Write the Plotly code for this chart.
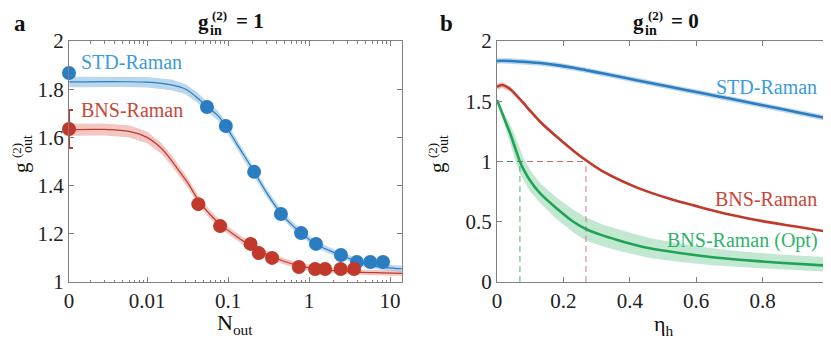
import numpy as np
import plotly.graph_objects as go

# ---- data ----
# panel a : g2_out vs N_out (g2_in = 1); N_out = 0 sits on the left axis edge
n_std = [0, 0.055, 0.094, 0.21, 0.45, 0.80, 1.22, 2.48, 3.9, 5.7, 8.2]
g_std = [1.867, 1.726, 1.647, 1.457, 1.282, 1.203, 1.158, 1.112, 1.083, 1.083, 1.083]
n_bns = [0, 0.043, 0.080, 0.19, 0.24, 0.35, 0.75, 1.19, 1.58, 2.46, 3.6]
g_bns = [1.635, 1.323, 1.232, 1.158, 1.12, 1.10, 1.062, 1.054, 1.054, 1.054, 1.054]
err_bns = [0.079, 0, 0, 0, 0, 0, 0, 0, 0, 0, 0]

fit_n_std = [0.0011, 0.005, 0.01, 0.02, 0.03, 0.04, 0.055, 0.075, 0.094, 0.13, 0.21,
             0.3, 0.45, 0.6, 0.8, 1.2, 1.8, 2.5, 4, 6, 9, 14]
fit_g_std = [1.830, 1.831, 1.829, 1.818, 1.80, 1.77, 1.728, 1.69, 1.647, 1.57, 1.458,
             1.37, 1.285, 1.24, 1.203, 1.158, 1.13, 1.11, 1.085, 1.068, 1.060, 1.055]
fit_w_std = [0.022, 0.022, 0.022, 0.022, 0.021, 0.021, 0.02, 0.02, 0.02, 0.019, 0.018,
             0.017, 0.016, 0.015, 0.015, 0.014, 0.013, 0.013, 0.012, 0.012, 0.012, 0.012]

fit_n_bns = [0.0011, 0.003, 0.006, 0.01, 0.015, 0.02, 0.025, 0.032, 0.043, 0.06, 0.08,
             0.12, 0.19, 0.3, 0.5, 0.75, 1.2, 2, 4, 8, 14]
fit_g_bns = [1.632, 1.633, 1.625, 1.60, 1.555, 1.505, 1.46, 1.41, 1.34, 1.28, 1.24,
             1.195, 1.15, 1.115, 1.085, 1.068, 1.055, 1.047, 1.041, 1.038, 1.036]
fit_w_bns = [0.025, 0.025, 0.025, 0.024, 0.023, 0.022, 0.021, 0.02, 0.019, 0.018, 0.017,
             0.016, 0.015, 0.014, 0.013, 0.012, 0.012, 0.011, 0.011, 0.011, 0.011]

# panel b : g2_out vs eta_h (g2_in = 0)
eta = [0, 0.015, 0.04, 0.078, 0.1, 0.13, 0.18, 0.23, 0.268, 0.32, 0.42, 0.52,
       0.62, 0.7, 0.8, 0.9, 1.0]
gb_std = [1.834, 1.836, 1.834, 1.828, 1.824, 1.817, 1.80, 1.778, 1.758, 1.73, 1.675,
          1.62, 1.566, 1.522, 1.467, 1.411, 1.355]
wb_std = [0.022, 0.022, 0.022, 0.022, 0.022, 0.022, 0.022, 0.022, 0.022, 0.022, 0.022,
          0.022, 0.022, 0.022, 0.022, 0.022, 0.022]
gb_bns = [1.62, 1.635, 1.60, 1.49, 1.42, 1.33, 1.205, 1.09, 1.01, 0.915, 0.785,
          0.69, 0.615, 0.56, 0.505, 0.46, 0.415]
wb_bns = [0.025, 0.025, 0.022, 0.018, 0.015, 0.012, 0.01, 0.009, 0.008, 0.007, 0.006,
          0.006, 0.005, 0.005, 0.005, 0.005, 0.005]

eta_opt = [0, 0.02, 0.04, 0.055, 0.069, 0.08, 0.1, 0.13, 0.18, 0.23, 0.268, 0.32,
           0.38, 0.46, 0.55, 0.65, 0.73, 0.85, 1.0]
gb_opt = [1.51, 1.37, 1.23, 1.11, 1.0, 0.935, 0.84, 0.735, 0.61, 0.50, 0.44, 0.385,
          0.335, 0.28, 0.24, 0.205, 0.185, 0.16, 0.135]
gb_opt_hi = [1.51, 1.41, 1.31, 1.21, 1.10, 1.03, 0.93, 0.82, 0.70, 0.60, 0.535, 0.475,
             0.425, 0.365, 0.32, 0.28, 0.255, 0.228, 0.205]
gb_opt_lo = [1.51, 1.33, 1.15, 1.01, 0.90, 0.84, 0.75, 0.655, 0.52, 0.41, 0.345, 0.295,
             0.25, 0.20, 0.165, 0.14, 0.125, 0.105, 0.085]

eta_cross_bns = 0.268
eta_cross_opt = 0.069

# ---- styling ----
BLUE, BLUE_T, BLUE_F = "#2A7DC0", "#3D9BD9", "rgba(120,176,220,0.5)"
RED, RED_T, RED_F = "#C0392B", "#C8473B", "rgba(225,130,125,0.45)"
GREEN, GREEN_T, GREEN_F = "#1FA355", "#2DB469", "rgba(120,205,155,0.45)"
FONT = "Liberation Serif, Times New Roman, DejaVu Serif, serif"
AXC = "#808080"
PAD = 8  # the page body keeps its default 8px margin
W, H = 831 - PAD, 340 - PAD
XA = [69, 402]
XB = [497, 829]
YT, YB = 41, 282


def px(x):
    return (x - PAD) / W


def py(y):
    return 1 - (y - PAD) / H


def band(x, lo, hi, color, xa, ya):
    return go.Scatter(x=list(x) + list(x)[::-1], y=list(hi) + list(lo)[::-1],
                      fill="toself", fillcolor=color, line=dict(width=0),
                      mode="lines", hoverinfo="skip", showlegend=False,
                      xaxis=xa, yaxis=ya)


fig = go.Figure()

# panel a
n_zero = 10 ** -2.963
xs_std = [n if n > 0 else n_zero for n in n_std]
xs_bns = [n if n > 0 else n_zero for n in n_bns]

gs, ws = np.array(fit_g_std), np.array(fit_w_std)
fig.add_trace(band(fit_n_std, gs - ws, gs + ws, BLUE_F, "x", "y"))
fig.add_trace(go.Scatter(x=fit_n_std, y=fit_g_std, mode="lines",
                         line=dict(color=BLUE, width=1.2, shape="spline"),
                         showlegend=False))
gr, wr = np.array(fit_g_bns), np.array(fit_w_bns)
fig.add_trace(band(fit_n_bns, gr - wr, gr + wr, RED_F, "x", "y"))
fig.add_trace(go.Scatter(x=fit_n_bns, y=fit_g_bns, mode="lines",
                         line=dict(color=RED, width=1.2, shape="spline"),
                         showlegend=False))
fig.add_trace(go.Scatter(x=xs_std, y=g_std, mode="markers", cliponaxis=False,
                         marker=dict(color=BLUE, size=14), showlegend=False))
fig.add_trace(go.Scatter(x=xs_bns, y=g_bns, mode="markers", cliponaxis=False,
                         marker=dict(color=RED, size=14),
                         error_y=dict(type="data", array=err_bns, color=RED,
                                      thickness=2, width=4),
                         showlegend=False))

# panel b
gs, ws = np.array(gb_std), np.array(wb_std)
fig.add_trace(band(eta, gs - ws, gs + ws, BLUE_F, "x2", "y2"))
gr, wr = np.array(gb_bns), np.array(wb_bns)
fig.add_trace(band(eta, gr - wr, gr + wr, RED_F, "x2", "y2"))
fig.add_trace(band(eta_opt, gb_opt_lo, gb_opt_hi, GREEN_F, "x2", "y2"))

for xv, c in [(eta_cross_bns, "rgba(205,110,110,0.75)"),
              (eta_cross_opt, "rgba(60,180,110,0.8)")]:
    fig.add_trace(go.Scatter(x=[xv, xv], y=[0, 1], mode="lines",
                             line=dict(color=c, width=1.2, dash="6px,4px"),
                             xaxis="x2", yaxis="y2", showlegend=False))
fig.add_trace(go.Scatter(x=[0, eta_cross_bns], y=[1, 1], mode="lines",
                         line=dict(color="rgba(180,80,70,0.85)", width=1.2, dash="6px,4px"),
                         xaxis="x2", yaxis="y2", showlegend=False))
fig.add_trace(go.Scatter(x=[0, eta_cross_opt], y=[1, 1], mode="lines",
                         line=dict(color="rgba(40,140,80,0.9)", width=1.2, dash="6px,4px"),
                         xaxis="x2", yaxis="y2", showlegend=False))

for xx, yy, c in [(eta, gb_std, BLUE), (eta, gb_bns, RED), (eta_opt, gb_opt, GREEN)]:
    fig.add_trace(go.Scatter(x=xx, y=yy, mode="lines",
                             line=dict(color=c, width=2.6, shape="spline", smoothing=0.8),
                             xaxis="x2", yaxis="y2", showlegend=False))

axis_common = dict(showline=True, linecolor=AXC, linewidth=1, mirror="ticks",
                   ticks="inside", ticklen=5, tickcolor=AXC, showgrid=False,
                   zeroline=False, automargin=False,
                   tickfont=dict(family=FONT, size=21, color="#222"))

fig.update_layout(
    width=W, height=H, margin=dict(l=0, r=0, t=0, b=0),
    plot_bgcolor="white", paper_bgcolor="white",
    xaxis=dict(domain=[px(XA[0]), px(XA[1])], type="log", range=[-2.963, 1.148],
               tickvals=[n_zero, 0.01, 0.1, 1, 10], ticktext=["0", "0.01", "0.1", "1", "10"],
               minor=dict(ticks="inside", ticklen=2.5, tickcolor=AXC, dtick="D1"),
               anchor="y", **axis_common),
    yaxis=dict(domain=[py(YB), py(YT)], range=[1, 2], dtick=0.2, anchor="x",
               **axis_common),
    xaxis2=dict(domain=[px(XB[0]), px(XB[1])], range=[0, 1], dtick=0.2, anchor="y2",
                **axis_common),
    yaxis2=dict(domain=[py(YB), py(YT)], range=[0, 2], dtick=0.5, anchor="x2",
                **axis_common),
)


def note(x, y, text, size, color="#111", bold=False, angle=0, xanchor="center"):
    if bold:
        text = "<b>" + text + "</b>"
    fig.add_annotation(x=px(x), y=py(y), xref="paper", yref="paper", text=text,
                       showarrow=False, textangle=angle, xanchor=xanchor, yanchor="middle",
                       font=dict(family=FONT, size=size, color=color))


# panel letters
note(20, 23, "a", 23, bold=True)
note(446, 23, "b", 23, bold=True)

# titles g_in^(2) = 1 / 0 with stacked scripts
for x0, val in [(203, "1"), (638, "0")]:
    note(x0, 22, "g", 21, bold=True)
    note(x0 + 17, 15, "(2)", 13, bold=True)
    note(x0 + 13, 30, "in", 14, bold=True)
    note(x0 + 47, 21, "= " + val, 21, bold=True)

# y axis labels g_out^(2), rotated
for x0 in [21, 437]:
    note(x0, 168, "g", 21, angle=-90)
    note(x0 - 5, 150, "(2)", 13, angle=-90)
    note(x0 + 6, 144, "out", 14, angle=-90)

# x axis labels
note(235, 324, "N<sub>out</sub>", 22)
note(664, 325, "\u03b7<sub>h</sub>", 22)

# series labels
note(79, 62, "STD-Raman", 20, color=BLUE_T, xanchor="left")
note(79, 110, "BNS-Raman", 20, color=RED_T, xanchor="left")
note(819, 87, "STD-Raman", 20, color=BLUE_T, xanchor="right")
note(819, 199, "BNS-Raman", 20, color=RED_T, xanchor="right")
note(820, 240, "BNS-Raman (Opt)", 20, color=GREEN_T, xanchor="right")

fig.write_html("out.html")
